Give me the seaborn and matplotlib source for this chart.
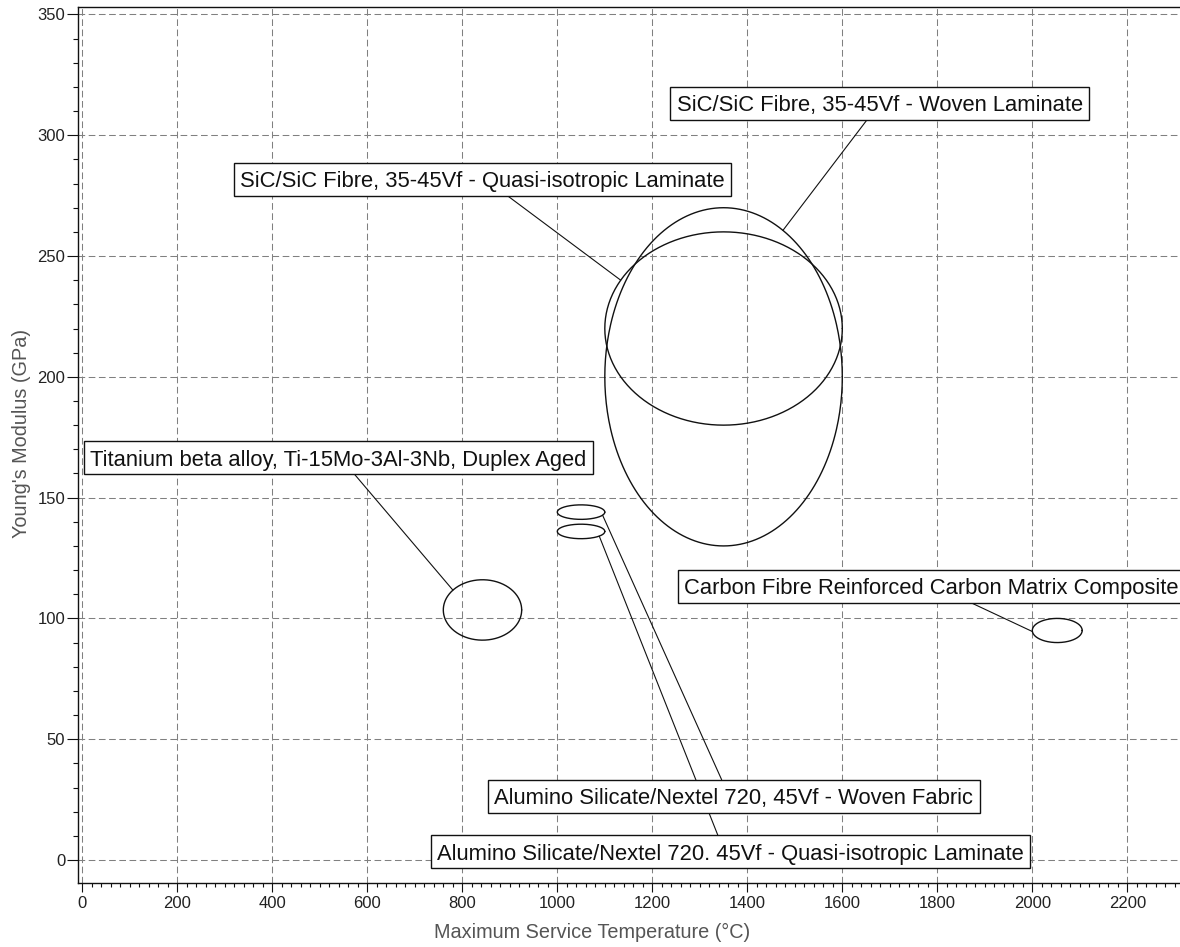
import numpy as np
import pandas as pd
import matplotlib
matplotlib.use("Agg")
import matplotlib.pyplot as plt
import seaborn as sns
from matplotlib.patches import Rectangle
from matplotlib.ticker import MultipleLocator, FixedLocator

# ---- material property ranges -------------------------------------------
materials = [
    "SiC/SiC Fibre, 35-45Vf - Woven Laminate",
    "SiC/SiC Fibre, 35-45Vf - Quasi-isotropic Laminate",
    "Titanium beta alloy, Ti-15Mo-3Al-3Nb, Duplex Aged",
    "Alumino Silicate/Nextel 720, 45Vf - Woven Fabric",
    "Alumino Silicate/Nextel 720. 45Vf - Quasi-isotropic Laminate",
    "Carbon Fibre Reinforced Carbon Matrix Composite",
]
temp_low = [1100, 1100, 760, 1000, 1000, 2000]      # max service temperature, degC
temp_high = [1600, 1600, 925, 1100, 1100, 2105]
modulus_low = [130, 180, 91, 141, 133, 90]           # Young's modulus, GPa
modulus_high = [270, 260, 116, 147, 139, 100]

x_ticks = list(range(0, 2201, 200))
y_ticks = list(range(0, 351, 50))

# ---- label layout (data coords): text start, box centre, leader anchor ---
label_x = [1251, 332, 17, 867, 747, 1267]
label_y = [313.2, 281.8, 166.5, 26.4, 3.4, 113.4]
leader_x = [1652, 895, 573, 1346, 1338, 1870]
leader_side = ["bottom", "bottom", "bottom", "top", "top", "bottom"]
leader_angle = [60, 150, 139, -25, -40, 185]

# ---- style ----------------------------------------------------------------
sns.set_theme(style="ticks")
plt.rcParams["font.family"] = ["Liberation Sans", "DejaVu Sans"]
plt.rcParams["axes.linewidth"] = 1.0

DPI = 100
fig = plt.figure(figsize=(11.80, 9.47), dpi=DPI)
ax = fig.add_axes([0.06585, 0.0679, 0.970, 0.925])
ax.set_xlim(-9.7, 2400)
ax.set_ylim(-9.4, 353.2)

ax.spines["right"].set_visible(False)
for s in ("left", "bottom", "top"):
    ax.spines[s].set_color("#111111")
    ax.spines[s].set_linewidth(1.0)

ax.xaxis.set_major_locator(FixedLocator(x_ticks))
ax.yaxis.set_major_locator(FixedLocator(y_ticks))
ax.xaxis.set_minor_locator(MultipleLocator(20))
ax.yaxis.set_minor_locator(MultipleLocator(10))
ax.tick_params(axis="x", which="major", direction="out", length=6.5, width=0.8,
               color="#111111", labelsize=12, labelcolor="#222222", pad=3)
ax.tick_params(axis="x", which="minor", direction="out", length=3, width=0.8,
               color="#111111")
ax.tick_params(axis="y", which="major", direction="out", length=8, width=0.8,
               color="#111111", labelsize=12, labelcolor="#222222", pad=1)
ax.tick_params(axis="y", which="minor", direction="out", length=3.6, width=0.8,
               color="#111111")

ax.grid(True, which="major", color="#808080", linewidth=0.75,
        linestyle=(0, (6.4, 3.4)), zorder=0)
ax.set_axisbelow(True)

# ---- property envelopes ---------------------------------------------------
t = np.linspace(0, 2 * np.pi, 361)
rows = []
for name, xl, xh, yl, yh in zip(materials, temp_low, temp_high,
                                modulus_low, modulus_high):
    cx, cy = (xl + xh) / 2, (yl + yh) / 2
    rx, ry = (xh - xl) / 2, (yh - yl) / 2
    for k, tt in enumerate(t):
        rows.append({"material": name, "order": k,
                     "temp": cx + rx * np.cos(tt),
                     "modulus": cy + ry * np.sin(tt)})
outline = pd.DataFrame(rows)
sns.lineplot(data=outline, x="temp", y="modulus", units="material",
             estimator=None, sort=False, color="#111111", linewidth=1.0,
             ax=ax, zorder=2, legend=False)

ax.set_xlim(-9.7, 2400)
ax.set_ylim(-9.4, 353.2)

# ---- labels in boxes with leader lines ------------------------------------
EM = 22.0          # font em in pixels
BOX_H = 33.0       # box height in pixels
PAD_X = 6.4        # horizontal padding in pixels
to_disp = ax.transData.transform
to_data = ax.transData.inverted().transform

fig.canvas.draw()
renderer = fig.canvas.get_renderer()

for i, name in enumerate(materials):
    cx_disp, cy_disp = to_disp((label_x[i], label_y[i]))
    base = to_data((cx_disp, cy_disp - 0.358 * EM))
    txt = ax.text(base[0], base[1], name, fontsize=EM * 72 / DPI,
                  color="#111111", ha="left", va="baseline", zorder=5)
    bb = txt.get_window_extent(renderer=renderer)
    x0, y0 = to_data((bb.x0 - PAD_X, cy_disp - BOX_H / 2))
    x1, y1 = to_data((bb.x1 + PAD_X, cy_disp + BOX_H / 2))
    ax.add_patch(Rectangle((x0, y0), x1 - x0, y1 - y0, facecolor="white",
                           edgecolor="#111111", linewidth=1.0, zorder=4))

    # leader from the box edge to the envelope outline
    xl, xh, yl, yh = temp_low[i], temp_high[i], modulus_low[i], modulus_high[i]
    a = np.deg2rad(leader_angle[i])
    ex = (xl + xh) / 2 + (xh - xl) / 2 * np.cos(a)
    ey = (yl + yh) / 2 + (yh - yl) / 2 * np.sin(a)
    by = y0 if leader_side[i] == "bottom" else y1
    ax.plot([leader_x[i], ex], [by, ey], color="#111111", linewidth=0.8,
            zorder=3)

# ---- axis titles ------------------------------------------------------------
ax.set_xlabel("Maximum Service Temperature (\u00b0C)", fontsize=14.3,
              color="#555555")
ax.set_ylabel("Young's Modulus (GPa)", fontsize=14.3, color="#555555")
ax.xaxis.label.set_va("center")
ax.yaxis.label.set_va("center")
ax.xaxis.set_label_coords(0.449, -0.0563)
ax.yaxis.set_label_coords(-0.0489, 0.513)

fig.savefig("out.png", dpi=DPI)
